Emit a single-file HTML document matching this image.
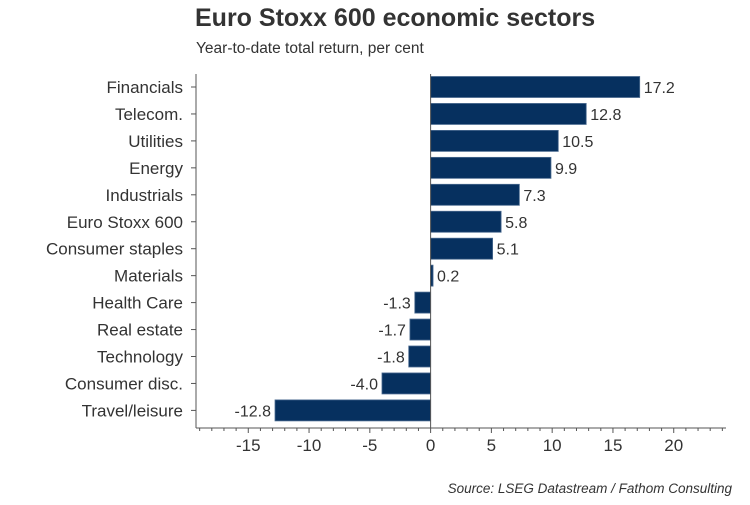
<!DOCTYPE html>
<html><head><meta charset="utf-8"><style>
body{margin:0;background:#fff;font-family:"Liberation Sans",Arial,sans-serif}
</style></head><body>
<svg id="c" width="750" height="500" xmlns="http://www.w3.org/2000/svg">
<text x="195" y="26" font-size="25" font-weight="bold" fill="#333">Euro Stoxx 600 economic sectors</text>
<text x="196" y="53" font-size="15.5" fill="#333">Year-to-date total return, per cent</text>
<text x="732" y="493" font-size="13.5" font-style="italic" fill="#333" text-anchor="end">Source: LSEG Datastream / Fathom Consulting</text>
<g id="plot"></g>
</svg>
<script>
const categories=["Financials","Telecom.","Utilities","Energy","Industrials","Euro Stoxx 600","Consumer staples","Materials","Health Care","Real estate","Technology","Consumer disc.","Travel/leisure"];
const values=[17.2,12.8,10.5,9.9,7.3,5.8,5.1,0.2,-1.3,-1.7,-1.8,-4.0,-12.8];
const labels=["17.2","12.8","10.5","9.9","7.3","5.8","5.1","0.2","-1.3","-1.7","-1.8","-4.0","-12.8"];
const ticks=[-15,-10,-5,0,5,10,15,20];
const xMin=-19.3,xMax=24.3,L=196,R=726;
const x=v=>L+(v-xMin)/(xMax-xMin)*(R-L);
const y0=87,step=26.95,bh=21,axisY=428;
const y=i=>y0+i*step;
const NS="http://www.w3.org/2000/svg";
const g=document.getElementById('plot');
function el(t,a){const e=document.createElementNS(NS,t);for(const k in a)e.setAttribute(k,a[k]);g.appendChild(e);return e;}
categories.forEach((c,i)=>{
 const v=values[i];const x0=x(0),x1=x(v);
 const b=el('rect',{x:Math.min(x0,x1),y:y(i)-bh/2,width:Math.max(Math.abs(x1-x0),1),height:bh,fill:'#06305f',stroke:'#4a6a8f','stroke-width':0.8});
 
 
 const t=el('text',{x:v>=0?x1+4:x1-4,y:y(i)+6,'font-size':16,fill:'#333','text-anchor':v>=0?'start':'end'});
 t.textContent=labels[i];
 
 
 const ct=el('text',{x:183,y:y(i)+6,'font-size':17,fill:'#333','text-anchor':'end'});
 ct.textContent=c;
 
 
 const tk=el('line',{x1:L-5,x2:L,y1:y(i),y2:y(i),stroke:'#555'});
 
 
});
const ya=el('line',{x1:L,x2:L,y1:74,y2:axisY,stroke:'#555'});


const zl=el('line',{x1:x(0),x2:x(0),y1:74,y2:axisY,stroke:'#555'});


const xa=el('line',{x1:L,x2:R,y1:axisY,y2:axisY,stroke:'#555'});


for(let v=-19;v<=24;v++){
 const major=v%5===0;
 const m=el('line',{x1:x(v),x2:x(v),y1:axisY,y2:axisY+(major?5:3),stroke:'#555'});
 
 
}
ticks.forEach(v=>{
 const t=el('text',{x:x(v),y:axisY+23,'font-size':17,fill:'#333','text-anchor':'middle'});
 t.textContent=String(v);
 
 
});
</script>
</body></html>
